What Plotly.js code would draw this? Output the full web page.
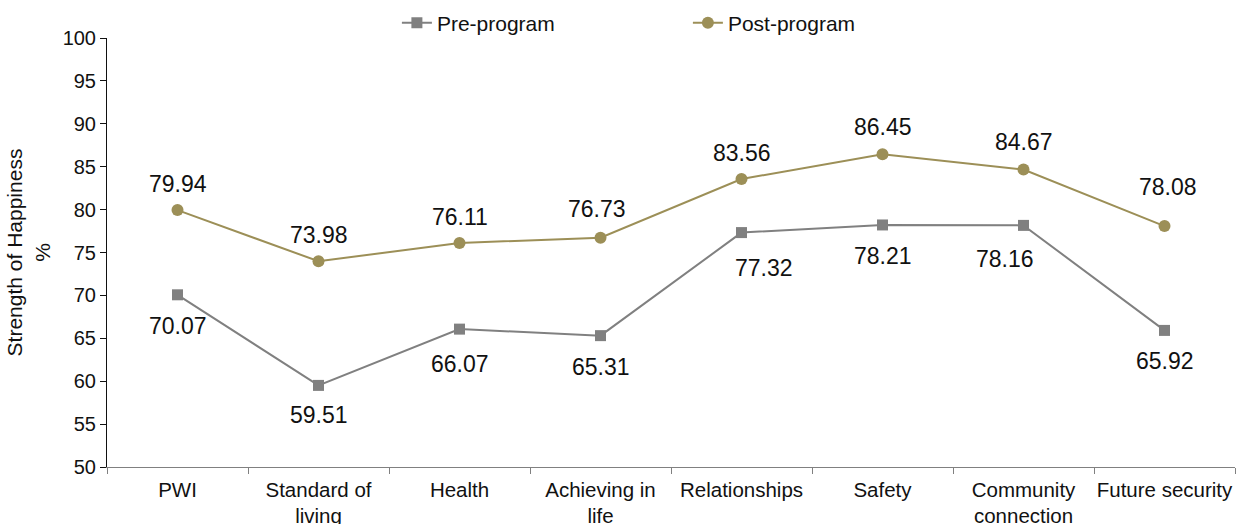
<!DOCTYPE html>
<html>
<head>
<meta charset="utf-8">
<script src="https://cdn.plot.ly/plotly-3.0.1.min.js"></script>
<style>html,body{margin:0;padding:0;background:#fff;}#chart{width:1237px;height:524px;}</style>
</head>
<body>
<div id="chart"></div>
<script>
const categories = ["PWI", "Standard of<br>living", "Health", "Achieving in<br>life", "Relationships", "Safety", "Community<br>connection", "Future security"];
const preProgram = [70.07, 59.51, 66.07, 65.31, 77.32, 78.21, 78.16, 65.92];
const postProgram = [79.94, 73.98, 76.11, 76.73, 83.56, 86.45, 84.67, 78.08];
const yTicks = [50, 55, 60, 65, 70, 75, 80, 85, 90, 95, 100];

// label nudges (pixels) to mimic the original manual label placement
const preLabelDy = [-31, -30, -35, -31, -35, -31, -34, -31];
const preLabelDx = [0, 0, 0, 0, 22, 0, -19, 0];
const postLabelDy = [26, 26, 26, 29, 26, 27, 28, 39];
const postLabelDx = [0, 0, 0, -4, 0, 0, 0, 3];

const fontFam = "Liberation Sans, Arial, sans-serif";
const PRE_COLOR = "#808080";
const POST_COLOR = "#9C8F57";
const idx = categories.map((_, i) => i);

const traces = [
  {
    x: idx, y: preProgram, name: "Pre-program", type: "scatter", mode: "lines+markers",
    line: {color: PRE_COLOR, width: 2},
    marker: {symbol: "square", size: 11, color: PRE_COLOR},
    cliponaxis: false
  },
  {
    x: idx, y: postProgram, name: "Post-program", type: "scatter", mode: "lines+markers",
    line: {color: POST_COLOR, width: 2},
    marker: {symbol: "circle", size: 12, color: POST_COLOR},
    cliponaxis: false
  }
];

const labelFont = {family: fontFam, size: 23, color: "#111"};
const annotations = [];
preProgram.forEach((v, i) => annotations.push({
  x: i, y: v, xref: "x", yref: "y", text: v.toFixed(2), showarrow: false,
  xanchor: "center", yanchor: "middle", xshift: preLabelDx[i], yshift: preLabelDy[i], font: labelFont
}));
postProgram.forEach((v, i) => annotations.push({
  x: i, y: v, xref: "x", yref: "y", text: v.toFixed(2), showarrow: false,
  xanchor: "center", yanchor: "middle", xshift: postLabelDx[i], yshift: postLabelDy[i], font: labelFont
}));

const layout = {
  width: 1237, height: 524,
  margin: {l: 107, r: 2, t: 36, b: 57},
  paper_bgcolor: "#fff", plot_bgcolor: "#fff",
  font: {family: fontFam, size: 20, color: "#111"},
  showlegend: true,
  legend: {orientation: "h", x: 0.257, xanchor: "left", y: 1.035, yanchor: "middle",
    font: {family: fontFam, size: 21, color: "#111"}, entrywidth: 246, entrywidthmode: "pixels",
    bgcolor: "rgba(0,0,0,0)"},
  annotations: annotations,
  xaxis: {
    range: [-0.5, 7.5], showgrid: false, zeroline: false,
    tickmode: "array", tickvals: idx, ticktext: categories,
    showline: true, linecolor: "#808080", linewidth: 1,
    ticks: "", fixedrange: true,
    tickfont: {family: fontFam, size: 20.5, color: "#111"}, ticklabelstandoff: 4
  },
  xaxis2: {
    overlaying: "x", range: [-0.5, 7.5], showgrid: false, zeroline: false, showline: false,
    tickmode: "array", tickvals: idx.concat([idx.length]).map(i => i - 0.5), showticklabels: false,
    ticks: "outside", ticklen: 6, tickcolor: "#808080", side: "bottom", anchor: "y"
  },
  yaxis: {
    range: [50, 100], tickvals: yTicks, showgrid: false, zeroline: false,
    showline: true, linecolor: "#111", linewidth: 1,
    ticks: "outside", ticklen: 6, tickcolor: "#111",
    tickfont: {family: fontFam, size: 20, color: "#111"},
    title: {text: "Strength of Happiness<br>%", font: {family: fontFam, size: 21, color: "#111"}, standoff: 6}
  }
};
traces.push({x: [0], y: [50], xaxis: "x2", yaxis: "y", mode: "markers", marker: {opacity: 0}, showlegend: false, hoverinfo: "skip"});
Plotly.newPlot("chart", traces, layout, {displayModeBar: false, staticPlot: true});
</script>
</body>
</html>
